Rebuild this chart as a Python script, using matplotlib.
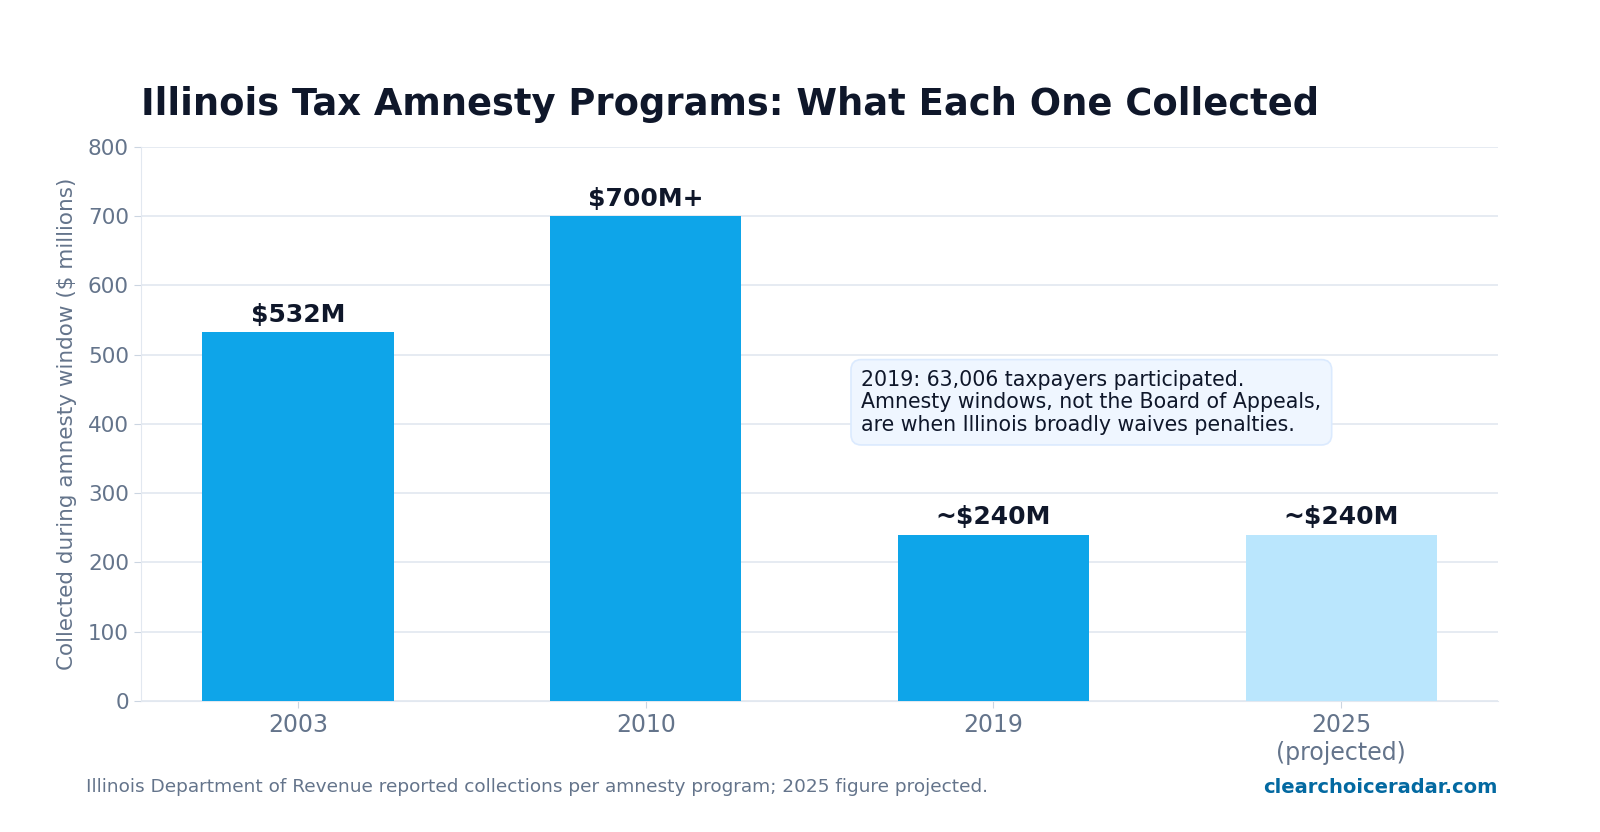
import matplotlib
matplotlib.use("Agg")
import matplotlib.pyplot as plt

categories = ["2003", "2010", "2019", "2025\n(projected)"]
values = [532, 700, 240, 240]
labels = ["$532M", "$700M+", "~$240M", "~$240M"]
colors = ["#0EA5E9", "#0EA5E9", "#0EA5E9", "#BAE6FD"]

plt.rcParams['font.family'] = ['DejaVu Sans']
fig = plt.figure(figsize=(16, 8.32), dpi=100)
ax = fig.add_axes([0.088, 0.1575, 0.848, 0.666])
x = list(range(len(categories)))
ax.bar(x, values, width=0.55, color=colors, zorder=3)
for xi, v, l in zip(x, values, labels):
    ax.text(xi, v + 8, l, ha='center', va='bottom', fontsize=18, fontweight='bold', color='#0F172A')
ax.set_xlim(-0.452, 3.45)
ax.set_ylim(0, 800)
ax.set_yticks(range(0, 801, 100))
ax.set_xticks(x)
ax.set_xticklabels(categories)
ax.tick_params(axis='x', labelsize=17, colors='#64748B', length=5, color='#CBD5E1')
ax.tick_params(axis='y', labelsize=15.5, colors='#64748B', length=5, color='#CBD5E1')
ax.grid(axis='y', color='#E2E8F0', linewidth=1.2, zorder=0)
for s in ['top', 'right']:
    ax.spines[s].set_visible(False)
for s in ['left', 'bottom']:
    ax.spines[s].set_color('#E2E8F0')
ax.set_ylabel("Collected during amnesty window ($ millions)", fontsize=15.5, color='#64748B', labelpad=8)
fig.text(0.088, 0.874, "Illinois Tax Amnesty Programs: What Each One Collected",
         fontsize=26.6, fontweight='bold', color='#0F172A', ha='left', va='center')
ax.text(1.62, 478, "2019: 63,006 taxpayers participated.\nAmnesty windows, not the Board of Appeals,\nare when Illinois broadly waives penalties.",
        fontsize=14.8, color='#0F172A', va='top', ha='left', linespacing=1.15,
        bbox=dict(boxstyle='round,pad=0.5', facecolor='#EFF6FF', edgecolor='#DBEAFE', linewidth=1.2), zorder=5)
fig.text(0.054, 0.054, "Illinois Department of Revenue reported collections per amnesty program; 2025 figure projected.",
         fontsize=13.3, color='#64748B', ha='left', va='center')
fig.text(0.936, 0.054, "clearchoiceradar.com", fontsize=14, fontweight='bold', color='#0369A1', ha='right', va='center')
fig.savefig("out.png", dpi=100)
